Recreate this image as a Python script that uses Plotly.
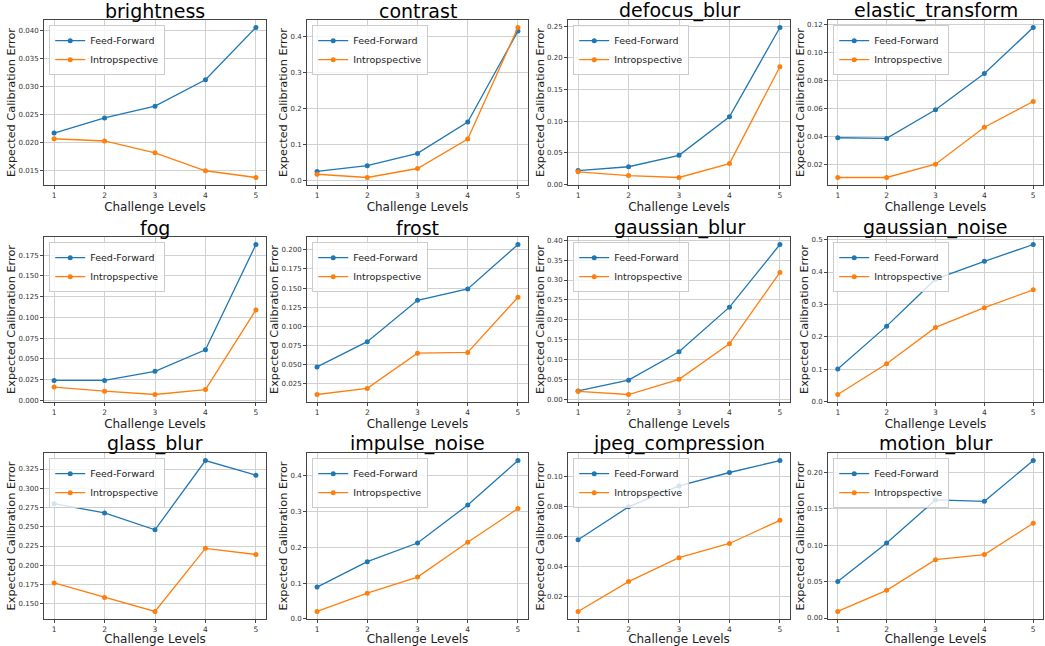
import plotly.graph_objects as go

levels = [1, 2, 3, 4, 5]
titles = ["brightness", "contrast", "defocus_blur", "elastic_transform",
          "fog", "frost", "gaussian_blur", "gaussian_noise",
          "glass_blur", "impulse_noise", "jpeg_compression", "motion_blur"]

ff_brightness = [0.0217, 0.0244, 0.0265, 0.0312, 0.0405]
in_brightness = [0.0207, 0.0203, 0.0182, 0.0150, 0.0138]
ff_contrast = [0.025, 0.041, 0.075, 0.162, 0.415]
in_contrast = [0.017, 0.008, 0.033, 0.115, 0.425]
ff_defocus = [0.022, 0.028, 0.046, 0.107, 0.248]
in_defocus = [0.020, 0.014, 0.011, 0.033, 0.186]
ff_elastic = [0.039, 0.0385, 0.059, 0.085, 0.118]
in_elastic = [0.0105, 0.0105, 0.020, 0.0465, 0.065]
ff_fog = [0.024, 0.024, 0.035, 0.061, 0.188]
in_fog = [0.016, 0.011, 0.007, 0.013, 0.109]
ff_frost = [0.047, 0.080, 0.134, 0.149, 0.207]
in_frost = [0.011, 0.019, 0.065, 0.066, 0.138]
ff_gblur = [0.022, 0.049, 0.120, 0.232, 0.389]
in_gblur = [0.021, 0.013, 0.051, 0.140, 0.319]
ff_gnoise = [0.101, 0.233, 0.378, 0.433, 0.485]
in_gnoise = [0.022, 0.117, 0.229, 0.290, 0.345]
ff_glass = [0.280, 0.268, 0.246, 0.336, 0.317]
in_glass = [0.177, 0.158, 0.140, 0.222, 0.214]
ff_impulse = [0.089, 0.160, 0.212, 0.318, 0.442]
in_impulse = [0.021, 0.072, 0.117, 0.214, 0.308]
ff_jpeg = [0.058, 0.080, 0.094, 0.103, 0.111]
in_jpeg = [0.010, 0.030, 0.046, 0.0555, 0.071]
ff_motion = [0.050, 0.103, 0.162, 0.160, 0.216]
in_motion = [0.009, 0.038, 0.080, 0.087, 0.130]

ff_all = [ff_brightness, ff_contrast, ff_defocus, ff_elastic, ff_fog, ff_frost,
          ff_gblur, ff_gnoise, ff_glass, ff_impulse, ff_jpeg, ff_motion]
in_all = [in_brightness, in_contrast, in_defocus, in_elastic, in_fog, in_frost,
          in_gblur, in_gnoise, in_glass, in_impulse, in_jpeg, in_motion]

# y tick step and label format for each panel
y_dtick = [0.005, 0.1, 0.05, 0.02, 0.025, 0.025, 0.05, 0.1, 0.025, 0.1, 0.02, 0.05]
y_fmt = [".3f", ".1f", ".2f", ".2f", ".3f", ".3f", ".2f", ".1f", ".3f", ".1f", ".2f", ".2f"]

series_names = ["Feed-Forward", "Intropspective"]
colors = ["#1f77b4", "#ff7f0e"]

W, H = 1045, 646
col_px = [(44, 266), (307, 528), (568, 790), (828, 1043)]
row_px = [(20, 185), (237, 402), (453, 619)]

fig = go.Figure()
layout = dict(width=W, height=H, margin=dict(l=0, r=0, t=0, b=0, autoexpand=False),
              paper_bgcolor="white", plot_bgcolor="white",
              font=dict(family="DejaVu Sans", color="#222"), showlegend=True)
annotations = []

for i, title in enumerate(titles):
    r, c = divmod(i, 4)
    n = i + 1
    xs = "x" if n == 1 else f"x{n}"
    ys = "y" if n == 1 else f"y{n}"
    lg = "legend" if n == 1 else f"legend{n}"
    for k, (vals, name) in enumerate(zip([ff_all[i], in_all[i]], series_names)):
        fig.add_trace(go.Scatter(x=levels, y=vals, mode="lines+markers", name=name,
                                 line=dict(color=colors[k], width=1.3),
                                 marker=dict(color=colors[k], size=5),
                                 xaxis=xs, yaxis=ys, legend=lg))
    allv = ff_all[i] + in_all[i]
    lo, hi = min(allv), max(allv)
    pad = (hi - lo) * 0.05
    x0, x1 = col_px[c]
    y0, y1 = row_px[r]
    dx = [x0 / W, x1 / W]
    dy = [1 - y1 / H, 1 - y0 / H]
    axsuffix = "" if n == 1 else str(n)
    layout[f"xaxis{axsuffix}"] = dict(
        domain=dx, anchor=ys, range=[0.8, 5.2], tickvals=levels, automargin=False,
        showgrid=True, gridcolor="#d0d0d0", gridwidth=1,
        showline=True, linecolor="#444", linewidth=1, mirror=True,
        ticks="outside", ticklen=3, tickcolor="#444",
        tickfont=dict(size=7.5, color="#333"), zeroline=False,
        title=dict(text="Challenge Levels", font=dict(size=12, color="#222"), standoff=0))
    layout[f"yaxis{axsuffix}"] = dict(
        domain=dy, anchor=xs, range=[lo - pad, hi + pad], automargin=False,
        dtick=y_dtick[i], tick0=0, tickformat=y_fmt[i],
        showgrid=True, gridcolor="#d0d0d0", gridwidth=1,
        showline=True, linecolor="#444", linewidth=1, mirror=True,
        ticks="outside", ticklen=3, tickcolor="#444",
        tickfont=dict(size=7, color="#333"), zeroline=False,
        title=dict(text="Expected Calibration Error", font=dict(size=11.3, color="#222"), standoff=0))
    layout[lg] = dict(x=dx[0] + 0.005, y=dy[1] - 0.008, xanchor="left", yanchor="top",
                      xref="paper", yref="paper",
                      bgcolor="rgba(255,255,255,0.8)", bordercolor="#ccc", borderwidth=1,
                      font=dict(size=9.5, color="#222"), tracegroupgap=0,
                      itemwidth=30)
    annotations.append(dict(text=title, x=(dx[0] + dx[1]) / 2, y=dy[1], xref="paper", yref="paper",
                            xanchor="center", yanchor="bottom", yshift=-4, showarrow=False,
                            font=dict(size=19, color="black")))

layout["annotations"] = annotations
fig.update_layout(**layout)
fig.write_html("out.html", config={"displayModeBar": False},
               post_script="document.body.style.margin='0';document.body.style.overflow='hidden';")
